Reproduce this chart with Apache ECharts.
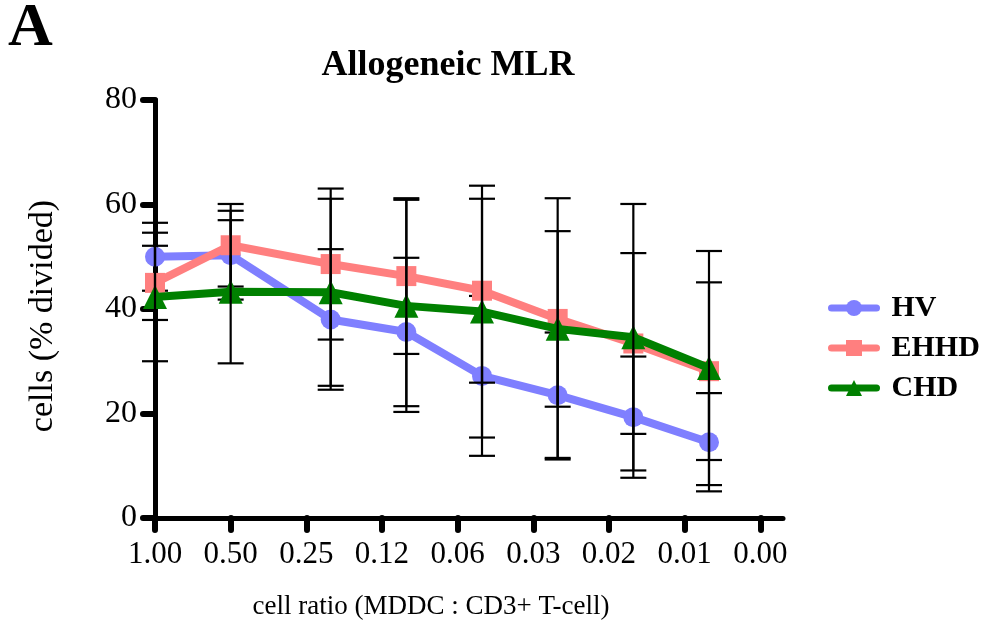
<!DOCTYPE html>
<html>
<head>
<meta charset="utf-8">
<script src="https://cdn.jsdelivr.net/npm/echarts@6/dist/echarts.min.js"></script>
<style>html,body{margin:0;padding:0;background:#fff}#c{width:985px;height:630px}</style>
</head>
<body>
<div id="c"></div>
<script>
// cell ratios (MDDC : CD3+ T-cell)
const ratios = [1, 0.5, 0.2, 0.1, 0.05, 0.025, 0.0125, 0.00625];
const tickValues = [1, 0.5, 0.25, 0.125, 0.0625, 0.03125, 0.015625, 0.0078125, 0.00390625];
const tickLabels = ['1.00', '0.50', '0.25', '0.12', '0.06', '0.03', '0.02', '0.01', '0.00'];
const yTicks = [0, 20, 40, 60, 80];

const seriesNames = ['HV', 'EHHD', 'CHD'];
const hvMean   = [50.0, 50.3, 38.0, 35.6, 27.2, 23.5, 19.3, 14.5];
const hvSD     = [6.5, 8.5, 13.45, 14.2, 15.3, 12.0, 11.6, 9.4];
const ehhdMean = [45.0, 52.2, 48.6, 46.3, 43.5, 38.1, 33.4, 28.1];
const ehhdSD   = [7.1, 7.9, 14.45, 14.9, 17.6, 16.8, 17.3, 17.0];
const chdMean  = [42.3, 43.3, 43.2, 40.6, 39.5, 36.2, 34.6, 28.7];
const chdSD    = [12.3, 13.7, 17.9, 20.3, 24.1, 25.0, 25.5, 22.4];

const colors = ['#7f7fff', '#ff7f7f', '#008000'];
const symbols = ['circle', 'rect', 'triangle'];
const symbolSizes = [20, 20, 24];
const FONT = '"Liberation Serif", "Times New Roman", serif';

const means = [hvMean, ehhdMean, chdMean];
const sds = [hvSD, ehhdSD, chdSD];

function errRender(params, api) {
  const x = api.value(0), lo = api.value(1), hi = api.value(2);
  const pLo = api.coord([x, lo]);
  const pHi = api.coord([x, hi]);
  const half = 13;
  const style = { stroke: '#000', lineWidth: 2.2 };
  return {
    type: 'group',
    children: [
      { type: 'line', shape: { x1: pLo[0], y1: pLo[1], x2: pHi[0], y2: pHi[1] }, style },
      { type: 'line', shape: { x1: pLo[0] - half, y1: pLo[1], x2: pLo[0] + half, y2: pLo[1] }, style },
      { type: 'line', shape: { x1: pHi[0] - half, y1: pHi[1], x2: pHi[0] + half, y2: pHi[1] }, style }
    ]
  };
}

const series = [];
seriesNames.forEach((name, i) => {
  series.push({
    name: name,
    type: 'line',
    data: ratios.map((r, k) => [r, means[i][k]]),
    symbol: symbols[i],
    symbolSize: symbolSizes[i],
    showSymbol: true,
    clip: false,
    z: 10 + i * 2,
    color: colors[i],
    lineStyle: { color: colors[i], width: 8 },
    itemStyle: { color: colors[i] },
    emphasis: { disabled: true },
    animation: false
  });
  series.push({
    type: 'custom',
    name: name + ' err',
    renderItem: errRender,
    data: ratios.map((r, k) => [r, means[i][k] - sds[i][k], means[i][k] + sds[i][k]]),
    encode: { x: 0, y: [1, 2] },
    clip: false,
    z: 11 + i * 2,
    silent: true,
    animation: false
  });
});

const chart = echarts.init(document.getElementById('c'), null, { renderer: 'canvas' });
chart.setOption({
  backgroundColor: '#fff',
  animation: false,
  textStyle: { fontFamily: FONT },
  graphic: [
    { type: 'text', left: 8, top: -2, style: { text: 'A', font: 'bold 62px ' + FONT, fill: '#000' } },
    { type: 'text', x: 448, y: 66, style: { text: 'Allogeneic MLR', font: 'bold 36px ' + FONT, fill: '#000', textAlign: 'center', textVerticalAlign: 'middle' } }
  ],
  legend: {
    data: seriesNames,
    orient: 'vertical',
    left: 828,
    top: 293,
    padding: 0,
    itemWidth: 45,
    itemHeight: 20,
    itemGap: 10,
    lineStyle: { width: 7, cap: 'round' },
    textStyle: { fontFamily: FONT, fontWeight: 'bold', fontSize: 30, color: '#000', padding: [0, 0, 0, 10] }
  },
  grid: { left: 155, top: 100, right: 202, bottom: 112, containLabel: false },
  xAxis: {
    type: 'log',
    logBase: 2,
    inverse: true,
    min: Math.pow(2, -8.3),
    max: 1,
    name: 'cell ratio (MDDC : CD3+ T-cell)',
    nameLocation: 'middle',
    nameGap: 75,
    nameTextStyle: { fontFamily: FONT, fontSize: 27, color: '#000', padding: [0, 76, 0, 0] },
    axisLine: { show: true, lineStyle: { color: '#000', width: 5 } },
    axisTick: { show: true, length: 12, customValues: tickValues, lineStyle: { color: '#000', width: 6, cap: 'round' } },
    axisLabel: {
      customValues: tickValues,
      margin: 21,
      fontFamily: FONT, fontSize: 31, color: '#000',
      formatter: function (v) {
        const idx = tickValues.findIndex(t => Math.abs(Math.log2(t) - Math.log2(v)) < 1e-6);
        return idx >= 0 ? tickLabels[idx] : '';
      }
    },
    splitLine: { show: false },
    minorTick: { show: false }
  },
  yAxis: {
    type: 'value',
    min: 0,
    max: 80,
    interval: 20,
    name: 'cells (% divided)',
    nameLocation: 'middle',
    nameGap: 95,
    nameTextStyle: { fontFamily: FONT, fontSize: 34, color: '#000', padding: [0, 14, 0, 0] },
    axisLine: { show: true, lineStyle: { color: '#000', width: 5 } },
    axisTick: { show: true, length: 12, lineStyle: { color: '#000', width: 6, cap: 'round' } },
    axisLabel: { margin: 18, fontFamily: FONT, fontSize: 32, color: '#000', formatter: v => (yTicks.indexOf(v) >= 0 ? String(v) : '') },
    splitLine: { show: false }
  },
  series: series
});
</script>
</body>
</html>
